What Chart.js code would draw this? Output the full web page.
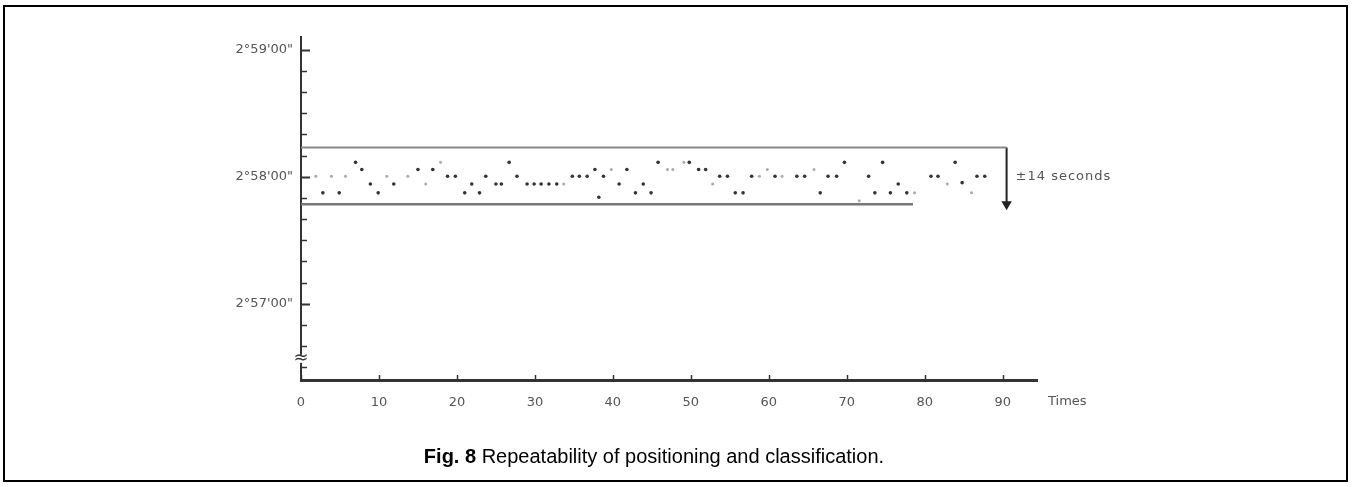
<!DOCTYPE html>
<html>
<head>
<meta charset="utf-8">
<script src="https://cdn.jsdelivr.net/npm/chart.js@4.4.1/dist/chart.umd.min.js"></script>
<style>
  html, body { margin: 0; padding: 0; background: #fff; }
  body { width: 1352px; height: 487px; position: relative; overflow: hidden; font-family: "Liberation Sans", Arial, sans-serif; }
  #frame { position: absolute; left: 3px; top: 5px; width: 1341px; height: 473px; border: 2px solid #000; }
  #plot { position: absolute; left: 0; top: 0; }
  #caption { position: absolute; left: -22px; width: 1352px; top: 445px; text-align: center; font-size: 20px; color: #000; }
</style>
</head>
<body>
<div id="frame"></div>
<canvas id="plot" width="1352" height="487"></canvas>
<div id="caption"><b>Fig. 8</b> Repeatability of positioning and classification.</div>
<script>
document.addEventListener('DOMContentLoaded', () => {

  // ------------------------------
  // DATA (angles in arc-seconds, 2°58'00" = 10680)
  // ------------------------------
  const baseSeconds = 10680;
  const upperLimit = 13.8;   // offset of the upper limit line
  const lowerLimit = -13.0;  // offset of the lower limit line
  const upperLineEnd = 90.5;
  const lowerLineEnd = 78.5;
  const bracketTime = 90.5;
  const breakSeconds = 10594;

  // clearly printed readings: trial number, offset from 2°58'00" (seconds)
  const clearTimes = [2.8, 4.9, 7.0, 7.8, 8.9, 9.9, 11.9, 15.0, 16.9, 18.8, 19.8, 21.0, 21.9,
    22.9, 23.7, 25.0, 25.7, 26.7, 27.7, 29.0, 29.9, 30.8, 31.8, 32.8, 34.8, 35.7, 36.7, 37.7,
    38.2, 38.8, 40.8, 41.8, 42.9, 43.9, 44.9, 45.8, 49.8, 51.0, 51.9, 53.7, 54.7, 55.7, 56.7,
    57.8, 60.8, 63.6, 64.6, 66.6, 67.6, 68.7, 69.7, 72.8, 73.6, 74.6, 75.6, 76.6, 77.7, 80.8,
    81.7, 83.9, 84.8, 86.7, 87.7];
  const clearOffsets = [-7.6, -7.6, 6.8, 3.4, -3.4, -7.6, -3.4, 3.4, 3.4, 0.2, 0.2, -7.6, -3.4,
    -7.6, 0.2, -3.4, -3.4, 6.8, 0.2, -3.4, -3.4, -3.4, -3.4, -3.4, 0.2, 0.2, 0.2, 3.4,
    -9.7, 0.2, -3.4, 3.4, -7.6, -3.4, -7.6, 6.8, 6.8, 3.4, 3.4, 0.2, 0.2, -7.6, -7.6,
    0.2, 0.2, 0.2, 0.2, -7.6, 0.2, 0.2, 6.8, 0.2, -7.6, 6.8, -7.6, -3.4, -7.6, 0.2,
    0.2, 6.8, -2.8, 0.2, 0.2];

  // faintly printed readings
  const faintTimes = [1.9, 3.9, 5.7, 11.0, 13.7, 16.0, 17.9, 33.7, 39.8, 47.0, 47.7, 49.1, 52.8,
    58.8, 59.8, 61.7, 65.8, 71.6, 78.7, 82.9, 86.0];
  const faintOffsets = [0.2, 0.2, 0.2, 0.2, 0.2, -3.4, 6.8, -3.4, 3.4, 3.4, 3.4, 6.8, -3.4,
    0.2, 3.4, 0.2, 3.4, -11.3, -7.6, -3.4, -7.6];

  const xTickValues = [0, 10, 20, 30, 40, 50, 60, 70, 80, 90];
  const yLabelValues = [10620, 10680, 10740];

  const toPoints = (xs, offs) => xs.map((t, i) => ({ x: t, y: baseSeconds + offs[i] }));

  function formatAngle(v) {
    const deg = Math.floor(v / 3600);
    const min = Math.floor((v % 3600) / 60);
    const sec = v % 60;
    return deg + '°' + min + "'" + String(sec).padStart(2, '0') + '"';
  }

  // ------------------------------
  // EXTRA DRAWING (inward ticks, notes)
  // ------------------------------
  const sketchPlugin = {
    id: 'sketch',
    afterDraw(chart) {
      const { ctx, scales: { x, y } } = chart;
      ctx.save();
      ctx.strokeStyle = '#333';
      // y ticks point into the plot
      y.ticks.forEach(t => {
        const major = yLabelValues.includes(t.value);
        const py = Math.round(y.getPixelForValue(t.value)) + 0.5;
        ctx.lineWidth = major ? 2 : 1.5;
        ctx.beginPath();
        ctx.moveTo(x.left, py);
        ctx.lineTo(x.left + (major ? 9 : 6), py);
        ctx.stroke();
      });
      // x ticks, short and upward
      ctx.lineWidth = 1.5;
      xTickValues.forEach(v => {
        const px = Math.round(x.getPixelForValue(v)) + 0.5;
        ctx.beginPath();
        ctx.moveTo(px, y.bottom);
        ctx.lineTo(px, y.bottom - 5);
        ctx.stroke();
      });
      // axis break mark
      const by = y.getPixelForValue(breakSeconds);
      ctx.fillStyle = '#fff';
      ctx.fillRect(x.left - 6, by - 4, 12, 8);
      ctx.fillStyle = '#333';
      ctx.font = '18px "DejaVu Sans"';
      ctx.textAlign = 'center';
      ctx.textBaseline = 'middle';
      ctx.fillText('≈', x.left, by);
      // axis name and limit note
      ctx.fillStyle = '#555';
      ctx.font = '13px "DejaVu Sans"';
      ctx.textAlign = 'left';
      ctx.fillText('Times', x.right + 11, y.bottom + 22);
      ctx.letterSpacing = '1px';
      ctx.fillText('±14 seconds', x.getPixelForValue(bracketTime) + 9, y.getPixelForValue(baseSeconds));
      ctx.restore();
    }
  };

  // ------------------------------
  // CHART BUILDING
  // ------------------------------
  const ctx = document.getElementById('plot').getContext('2d');
  new Chart(ctx, {
    type: 'scatter',
    data: {
      datasets: [
        {
          label: 'Clear readings',
          data: toPoints(clearTimes, clearOffsets),
          backgroundColor: '#333',
          borderWidth: 0,
          pointRadius: 1.8
        },
        {
          label: 'Faint readings',
          data: toPoints(faintTimes, faintOffsets),
          backgroundColor: '#aaa',
          borderWidth: 0,
          pointRadius: 1.5
        },
        {
          label: 'Upper limit',
          data: [{ x: 0, y: baseSeconds + upperLimit }, { x: upperLineEnd, y: baseSeconds + upperLimit }],
          showLine: true,
          borderColor: '#888',
          borderWidth: 2,
          pointRadius: 0
        },
        {
          label: 'Lower limit',
          data: [{ x: 0, y: baseSeconds + lowerLimit }, { x: lowerLineEnd, y: baseSeconds + lowerLimit }],
          showLine: true,
          borderColor: '#777',
          borderWidth: 2.5,
          pointRadius: 0
        },
        {
          label: 'Range',
          data: [{ x: bracketTime, y: baseSeconds + upperLimit }, { x: bracketTime, y: baseSeconds + lowerLimit }],
          showLine: true,
          borderColor: '#222',
          backgroundColor: '#222',
          borderWidth: 2,
          pointStyle: 'triangle',
          rotation: 180,
          pointRadius: [0, 4]
        }
      ]
    },
    options: {
      responsive: false,
      animation: false,
      layout: {
        padding: { left: 201, right: 315, top: 37, bottom: 60 }
      },
      plugins: {
        legend: { display: false },
        tooltip: { enabled: false }
      },
      scales: {
        x: {
          type: 'linear',
          min: 0,
          max: 94.4,
          afterFit: (s) => { s.height = 47; },
          grid: { display: false, drawTicks: false },
          border: { display: true, color: '#333', width: 3 },
          ticks: {
            stepSize: 10,
            includeBounds: false,
            autoSkip: false,
            maxRotation: 0,
            padding: 15,
            color: '#555',
            font: { family: 'DejaVu Sans', size: 13 }
          }
        },
        y: {
          type: 'linear',
          min: 10584,
          max: 10746,
          afterFit: (s) => { s.width = 100; },
          grid: { display: false, drawTicks: false },
          border: { display: true, color: '#333', width: 2 },
          ticks: {
            stepSize: 10,
            includeBounds: false,
            autoSkip: false,
            maxTicksLimit: 100,
            padding: 8,
            color: '#555',
            font: { family: 'DejaVu Sans', size: 13 },
            callback: (v) => yLabelValues.includes(v) ? formatAngle(v) : ''
          }
        }
      }
    },
    plugins: [sketchPlugin]
  });

});
</script>
</body>
</html>
